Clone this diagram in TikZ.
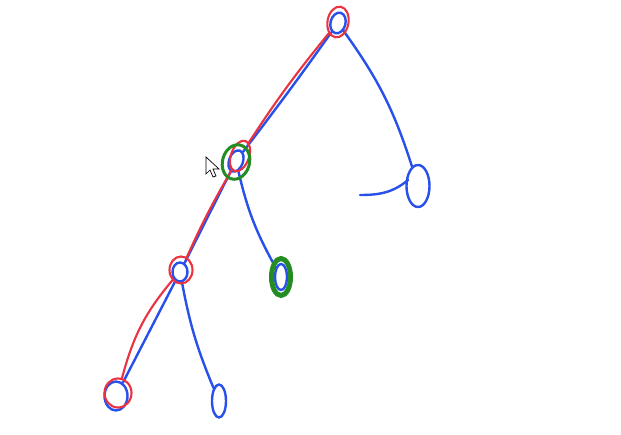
\documentclass[tikz,border=0pt]{standalone}
\usepackage{tikz}
\usepackage{xcolor}
\usetikzlibrary{shapes.geometric}
\definecolor{blueink}{RGB}{40,80,235}
\definecolor{redink}{RGB}{235,50,65}
\definecolor{greenink}{RGB}{35,140,35}
\begin{document}
\begin{tikzpicture}[x=1pt,y=-1pt,
    bnode/.style={ellipse, draw=blueink, line width=2.4pt, inner sep=0pt},
    rnode/.style={ellipse, draw=redink, line width=2.1pt, inner sep=0pt},
    gnode/.style={ellipse, draw=greenink, line width=3pt, inner sep=0pt},
    bline/.style={draw=blueink, line width=2.4pt, line cap=round},
    rline/.style={draw=redink, line width=2.1pt, line cap=round}]
            \useasboundingbox[fill=white] (0,0) rectangle (621,435);
            % blue tree
            \node[bnode, minimum width=15pt, minimum height=21pt, rotate=-15] (R) at (338,23) {};
            \node[bnode, minimum width=23pt, minimum height=42pt] (Q) at (418,186) {};
            \node[bnode, minimum width=14pt, minimum height=22pt, rotate=-20] (A) at (236,161) {};
            \node[bnode, minimum width=12pt, minimum height=26pt] (G) at (281,277) {};
            \node[bnode, minimum width=15pt, minimum height=19pt] (B) at (180,272) {};
            \node[bnode, minimum width=23pt, minimum height=29pt] (C) at (116,396) {};
            \node[bnode, minimum width=14pt, minimum height=33pt] (D) at (219,401) {};
            \coordinate (T) at (360,195);
            \coordinate (T1) at (408,180);

            \draw[bline] (R) to[bend left=1] (A);
            \draw[bline] (R) to[bend left=9] (Q);
            \draw[bline] (T) to[out=0,in=-140] (T1);
            \draw[bline] (A) to[bend right=8] (G);
            \draw[bline] (A) -- (B);
            \draw[bline] (B) -- (C);
            \draw[bline] (B) to[bend right=6] (D);

            % red path
            \node[rnode, minimum width=21pt, minimum height=31pt, rotate=-10] (Rr) at (338,22) {};
            \node[rnode, minimum width=18pt, minimum height=32pt, rotate=-20] (Ar) at (240,156) {};
            \node[rnode, minimum width=23pt, minimum height=27pt] (Br) at (181,270) {};
            \node[rnode, minimum width=27pt, minimum height=29pt] (Cr) at (118,393) {};

            \draw[rline] (Rr) to[bend right=3] (Ar);
            \draw[rline] (Ar) to[bend right=3] (Br);
            \draw[rline] (Br) to[out=-130,in=75] (Cr);

            % green marks
            \node[gnode, minimum width=27pt, minimum height=35pt, rotate=-15] (Ag) at (236,162) {};
            \node[gnode, line width=5pt, minimum width=19pt, minimum height=37pt] (Gg) at (281,277) {};

            % cursor
            \draw[black, line width=0.7pt, fill=white] (206,157) -- (206,174) -- (210,170) -- (213,177)
                -- (216,176) -- (213,169) -- (219,169) -- cycle;
        \end{tikzpicture}
\end{document}
